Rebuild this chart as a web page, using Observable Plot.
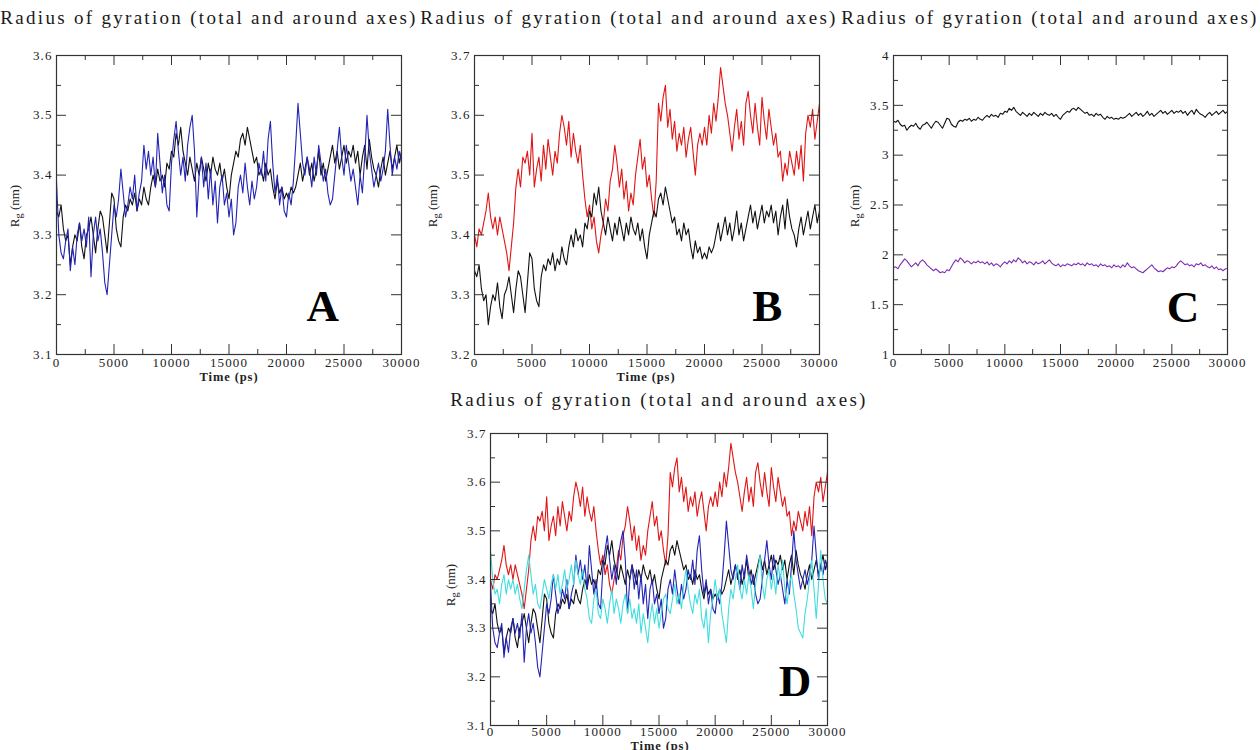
<!DOCTYPE html>
<html><head><meta charset="utf-8">
<script src="https://cdn.jsdelivr.net/npm/d3@7"></script>
<script src="https://cdn.jsdelivr.net/npm/@observablehq/plot@0.6"></script>
<style>
body{margin:0;background:#fff;}
#wrap{position:relative;width:1260px;height:750px;overflow:hidden;font-family:"Liberation Serif","Times New Roman",serif;color:#222;background:#fff;}
.panel{position:absolute;}
.title{position:absolute;font-family:"Liberation Serif",serif;font-size:19px;letter-spacing:2.3px;white-space:nowrap;transform:translate(-50%,-50%);color:#1a1a1a;}
.ylab{position:absolute;font-size:13px;white-space:nowrap;transform:translate(-50%,-50%) rotate(-90deg);}
.ylab sub{font-size:0.8em;vertical-align:-0.3em;line-height:0;}
.xlab{position:absolute;font-size:12.5px;font-weight:bold;white-space:nowrap;transform:translate(-50%,-50%);letter-spacing:0.9px;}
</style></head><body><div id="wrap"></div>
<script>
// time grid (ps), one sample every 200 ps
const timePs = d3.range(0, 30001, 200);

// total Rg (black)
const rgTotal = [
3.34,3.33,3.35,3.31,3.29,3.30,3.25,3.28,3.30,3.29,
3.32,3.28,3.26,3.30,3.31,3.33,3.30,3.27,3.31,3.34,
3.33,3.30,3.27,3.32,3.37,3.36,3.31,3.29,3.28,3.33,
3.35,3.34,3.36,3.35,3.37,3.34,3.36,3.35,3.38,3.36,
3.35,3.38,3.40,3.38,3.41,3.39,3.40,3.38,3.42,3.41,
3.44,3.43,3.47,3.45,3.48,3.44,3.42,3.40,3.43,3.41,
3.39,3.42,3.40,3.43,3.41,3.39,3.42,3.40,3.43,3.41,
3.40,3.42,3.39,3.41,3.38,3.36,3.40,3.42,3.44,3.43,
3.46,3.47,3.45,3.48,3.46,3.44,3.42,3.43,3.40,3.41,
3.39,3.42,3.40,3.41,3.38,3.36,3.39,3.37,3.38,3.36,
3.37,3.36,3.38,3.37,3.38,3.40,3.42,3.39,3.41,3.43,
3.40,3.42,3.39,3.41,3.44,3.40,3.42,3.39,3.41,3.43,
3.45,3.42,3.44,3.41,3.43,3.45,3.42,3.44,3.43,3.45,
3.42,3.44,3.40,3.43,3.45,3.41,3.46,3.43,3.41,3.40,
3.38,3.41,3.43,3.40,3.42,3.44,3.41,3.43,3.45,3.42,
3.44];

// blue series
const rgBlue = [
3.39,3.30,3.27,3.26,3.29,3.31,3.24,3.28,3.25,3.30,
3.32,3.29,3.31,3.28,3.33,3.23,3.30,3.33,3.29,3.31,
3.27,3.22,3.20,3.25,3.30,3.35,3.33,3.36,3.41,3.37,
3.33,3.35,3.38,3.36,3.40,3.34,3.37,3.39,3.45,3.41,
3.44,3.40,3.43,3.38,3.47,3.42,3.37,3.40,3.35,3.34,
3.42,3.46,3.49,3.44,3.40,3.43,3.39,3.45,3.48,3.50,
3.44,3.33,3.40,3.43,3.38,3.42,3.36,3.41,3.35,3.39,
3.32,3.38,3.40,3.35,3.37,3.33,3.36,3.30,3.32,3.38,
3.40,3.37,3.42,3.38,3.35,3.39,3.36,3.38,3.42,3.40,
3.44,3.39,3.46,3.49,3.42,3.37,3.40,3.35,3.38,3.34,
3.33,3.37,3.35,3.39,3.45,3.52,3.47,3.42,3.40,3.43,
3.41,3.38,3.43,3.40,3.45,3.42,3.39,3.41,3.37,3.35,
3.36,3.40,3.44,3.48,3.43,3.40,3.45,3.42,3.39,3.41,
3.38,3.35,3.40,3.37,3.43,3.50,3.44,3.41,3.38,3.40,
3.42,3.39,3.41,3.44,3.51,3.45,3.40,3.43,3.41,3.44,
3.42];

// red series
const rgRed = [
3.40,3.38,3.41,3.40,3.42,3.44,3.47,3.43,3.41,3.43,
3.40,3.43,3.41,3.39,3.37,3.34,3.38,3.42,3.48,3.51,
3.48,3.53,3.52,3.54,3.50,3.57,3.48,3.51,3.53,3.49,
3.55,3.51,3.56,3.53,3.50,3.54,3.52,3.57,3.60,3.58,
3.55,3.59,3.53,3.57,3.54,3.52,3.55,3.50,3.46,3.43,
3.45,3.41,3.43,3.39,3.37,3.40,3.42,3.46,3.44,3.49,
3.51,3.55,3.52,3.48,3.51,3.46,3.49,3.44,3.47,3.45,
3.50,3.53,3.56,3.51,3.53,3.48,3.50,3.46,3.43,3.49,
3.62,3.59,3.63,3.65,3.58,3.61,3.56,3.59,3.54,3.57,
3.55,3.58,3.53,3.56,3.58,3.54,3.50,3.55,3.57,3.55,
3.58,3.55,3.60,3.57,3.62,3.59,3.63,3.68,3.65,3.62,
3.60,3.57,3.54,3.58,3.61,3.56,3.59,3.55,3.62,3.64,
3.60,3.57,3.62,3.58,3.55,3.63,3.59,3.56,3.61,3.58,
3.55,3.57,3.53,3.54,3.49,3.52,3.50,3.54,3.52,3.50,
3.54,3.51,3.55,3.49,3.57,3.60,3.58,3.61,3.56,3.59,
3.62];

// cyan series
const rgCyan = [
3.46,3.40,3.37,3.38,3.35,3.39,3.41,3.37,3.40,3.38,
3.40,3.37,3.39,3.36,3.34,3.38,3.42,3.45,3.41,3.37,
3.39,3.35,3.34,3.37,3.40,3.38,3.36,3.39,3.41,3.38,
3.41,3.37,3.39,3.42,3.38,3.40,3.43,3.39,3.44,3.41,
3.39,3.42,3.38,3.36,3.32,3.31,3.36,3.38,3.33,3.32,
3.36,3.34,3.31,3.35,3.38,3.33,3.36,3.34,3.31,3.35,
3.37,3.33,3.36,3.32,3.34,3.31,3.35,3.29,3.33,3.30,
3.27,3.32,3.35,3.31,3.34,3.30,3.33,3.36,3.37,3.34,
3.33,3.36,3.39,3.35,3.37,3.34,3.39,3.42,3.38,3.35,
3.33,3.37,3.35,3.38,3.32,3.30,3.34,3.27,3.33,3.36,
3.40,3.36,3.38,3.33,3.30,3.27,3.34,3.38,3.36,3.40,
3.43,3.38,3.36,3.40,3.37,3.41,3.38,3.34,3.39,3.42,
3.45,3.39,3.36,3.40,3.42,3.38,3.41,3.37,3.43,3.40,
3.44,3.38,3.35,3.39,3.41,3.37,3.34,3.30,3.29,3.28,
3.33,3.36,3.40,3.44,3.38,3.32,3.39,3.46,3.40,3.36,
3.35];

// purple series (panel C)
const rgPurple = [
1.87,1.88,1.86,1.90,1.93,1.96,1.94,1.91,1.88,1.90,
1.92,1.89,1.93,1.95,1.93,1.90,1.88,1.86,1.84,1.86,
1.84,1.82,1.83,1.82,1.85,1.84,1.88,1.92,1.95,1.93,
1.97,1.95,1.92,1.94,1.93,1.91,1.93,1.92,1.94,1.92,
1.93,1.91,1.93,1.90,1.92,1.89,1.91,1.90,1.88,1.91,
1.93,1.91,1.94,1.92,1.95,1.93,1.97,1.95,1.92,1.94,
1.91,1.93,1.92,1.90,1.93,1.91,1.92,1.94,1.91,1.93,
1.95,1.92,1.90,1.89,1.91,1.88,1.90,1.89,1.91,1.90,
1.89,1.91,1.90,1.92,1.90,1.91,1.89,1.92,1.90,1.91,
1.89,1.90,1.88,1.91,1.89,1.90,1.88,1.89,1.87,1.90,
1.88,1.89,1.87,1.90,1.88,1.92,1.89,1.87,1.88,1.86,
1.84,1.83,1.82,1.84,1.86,1.88,1.90,1.87,1.85,1.83,
1.84,1.83,1.85,1.87,1.86,1.88,1.87,1.89,1.92,1.94,
1.92,1.90,1.91,1.89,1.90,1.88,1.91,1.90,1.92,1.89,
1.90,1.88,1.87,1.89,1.86,1.88,1.85,1.86,1.84,1.86,
1.86];

// ticks
const xMajorTicks = [0,5000,10000,15000,20000,25000,30000];
const xMinorTicks = [2500,7500,12500,17500,22500,27500];
const yMajorA = [3.1,3.2,3.3,3.4,3.5,3.6];
const yMinorA = [3.15,3.25,3.35,3.45,3.55];
const yMajorB = [3.2,3.3,3.4,3.5,3.6,3.7];
const yMinorB = [3.25,3.35,3.45,3.55,3.65];
const yMajorC = [1,1.5,2,2.5,3,3.5,4];
const yMinorC = [1.25,1.75,2.25,2.75,3.25,3.75];
const yMajorD = [3.1,3.2,3.3,3.4,3.5,3.6,3.7];
const yMinorD = [3.15,3.25,3.35,3.45,3.55,3.65];

const titleText = "Radius of gyration (total and around axes)";
const panelLetters = ["A","B","C","D"];

const colBlack = "#111", colBlue = "#2323b5", colRed = "#e01515", colCyan = "#40dede", colPurple = "#7d2bb0";

const wrap = document.getElementById("wrap");

function rows(values){ return timePs.map((t,i)=>({t, v: values[i]})); }

function panel(o){
  const innerW = o.width - o.mL - o.mR, innerH = o.height - o.mT - o.mB;
  const MAJ = 10, MIN = 5, tc = "#333";
  const marks = [
    ...o.series.map(s => Plot.line(rows(s.values), {x:"t", y:"v", stroke:s.color, strokeWidth:1.1})),
    Plot.ruleX(xMajorTicks, {stroke:tc, insetTop: innerH - MAJ}),
    Plot.ruleX(xMajorTicks, {stroke:tc, insetBottom: innerH - MAJ}),
    Plot.ruleX(xMinorTicks, {stroke:tc, insetTop: innerH - MIN}),
    Plot.ruleX(xMinorTicks, {stroke:tc, insetBottom: innerH - MIN}),
    Plot.ruleY(o.yMajor, {stroke:tc, insetRight: innerW - MAJ}),
    Plot.ruleY(o.yMajor, {stroke:tc, insetLeft: innerW - MAJ}),
    Plot.ruleY(o.yMinor, {stroke:tc, insetRight: innerW - MIN}),
    Plot.ruleY(o.yMinor, {stroke:tc, insetLeft: innerW - MIN}),
    Plot.frame({stroke:"#333", strokeWidth:1.2}),
    Plot.axisX(xMajorTicks, {tickSize:0, tickPadding:o.xPad, tickFormat: d3.format("d"), fill:"#222", label:null}),
    Plot.axisY(o.yMajor, {tickSize:0, tickPadding:4, tickFormat: d => String(d), fill:"#222", label:null}),
    Plot.text([o.letter], {x: () => o.letterPos[0], y: () => o.letterPos[1], text: d => d,
      fontSize: 45, fontWeight: "bold", fontFamily: "Liberation Serif", fill: "#000", textAnchor:"middle", lineAnchor:"middle"})
  ];
  const svg = Plot.plot({
    width:o.width, height:o.height,
    marginLeft:o.mL, marginRight:o.mR, marginTop:o.mT, marginBottom:o.mB,
    x:{domain:[0,30000], axis:null},
    y:{domain:o.yDomain, axis:null},
    clip:false,
    style:{fontFamily:"Liberation Serif, serif", fontSize:"13px", letterSpacing:"1.1px", background:"transparent", color:"#222", overflow:"visible"},
    marks
  });
  const div = document.createElement("div");
  div.className = "panel";
  div.style.left = o.left + "px"; div.style.top = o.top + "px";
  div.appendChild(svg);
  wrap.appendChild(div);
}

function addText(cls, html, x, y){
  const d = document.createElement("div");
  d.className = cls; d.innerHTML = html;
  d.style.left = x + "px"; d.style.top = y + "px";
  wrap.appendChild(d);
}

panel({left:0, top:40, width:420, height:345, mL:56, mR:19, mT:15, mB:31, xPad:3,
  yDomain:[3.1,3.6], yMajor:yMajorA, yMinor:yMinorA,
  series:[{values:rgTotal,color:colBlack},{values:rgBlue,color:colBlue}],
  letter:panelLetters[0], letterPos:[23200,3.18]});
panel({left:420, top:40, width:420, height:345, mL:54, mR:21, mT:15, mB:31, xPad:3,
  yDomain:[3.2,3.7], yMajor:yMajorB, yMinor:yMinorB,
  series:[{values:rgRed,color:colRed},{values:rgTotal,color:colBlack}],
  letter:panelLetters[1], letterPos:[25500,3.28]});
panel({left:840, top:40, width:420, height:345, mL:53, mR:33, mT:15, mB:31, xPad:3,
  yDomain:[1,4], yMajor:yMajorC, yMinor:yMinorC,
  series:[{values:rgTotal,color:colBlack},{values:rgPurple,color:colPurple}],
  letter:panelLetters[2], letterPos:[26050,1.47]});
panel({left:430, top:415, width:420, height:335, mL:60, mR:23, mT:18, mB:25, xPad:1,
  yDomain:[3.1,3.7], yMajor:yMajorD, yMinor:yMinorD,
  series:[{values:rgRed,color:colRed},{values:rgTotal,color:colBlack},{values:rgBlue,color:colBlue},{values:rgCyan,color:colCyan}],
  letter:panelLetters[3], letterPos:[27150,3.19]});

addText("title", titleText, 209, 18);
addText("title", titleText, 629, 18);
addText("title", titleText, 1050, 18);
addText("title", titleText, 659, 400);

const ylabHTML = "R<sub>g</sub> (nm)";
addText("ylab", ylabHTML, 15, 206);
addText("ylab", ylabHTML, 433, 206);
addText("ylab", ylabHTML, 855, 206);
addText("ylab", ylabHTML, 451, 585);

addText("xlab", "Time (ps)", 229, 377);
addText("xlab", "Time (ps)", 646, 377);
addText("xlab", "Time (ps)", 660, 746);
</script></body></html>
